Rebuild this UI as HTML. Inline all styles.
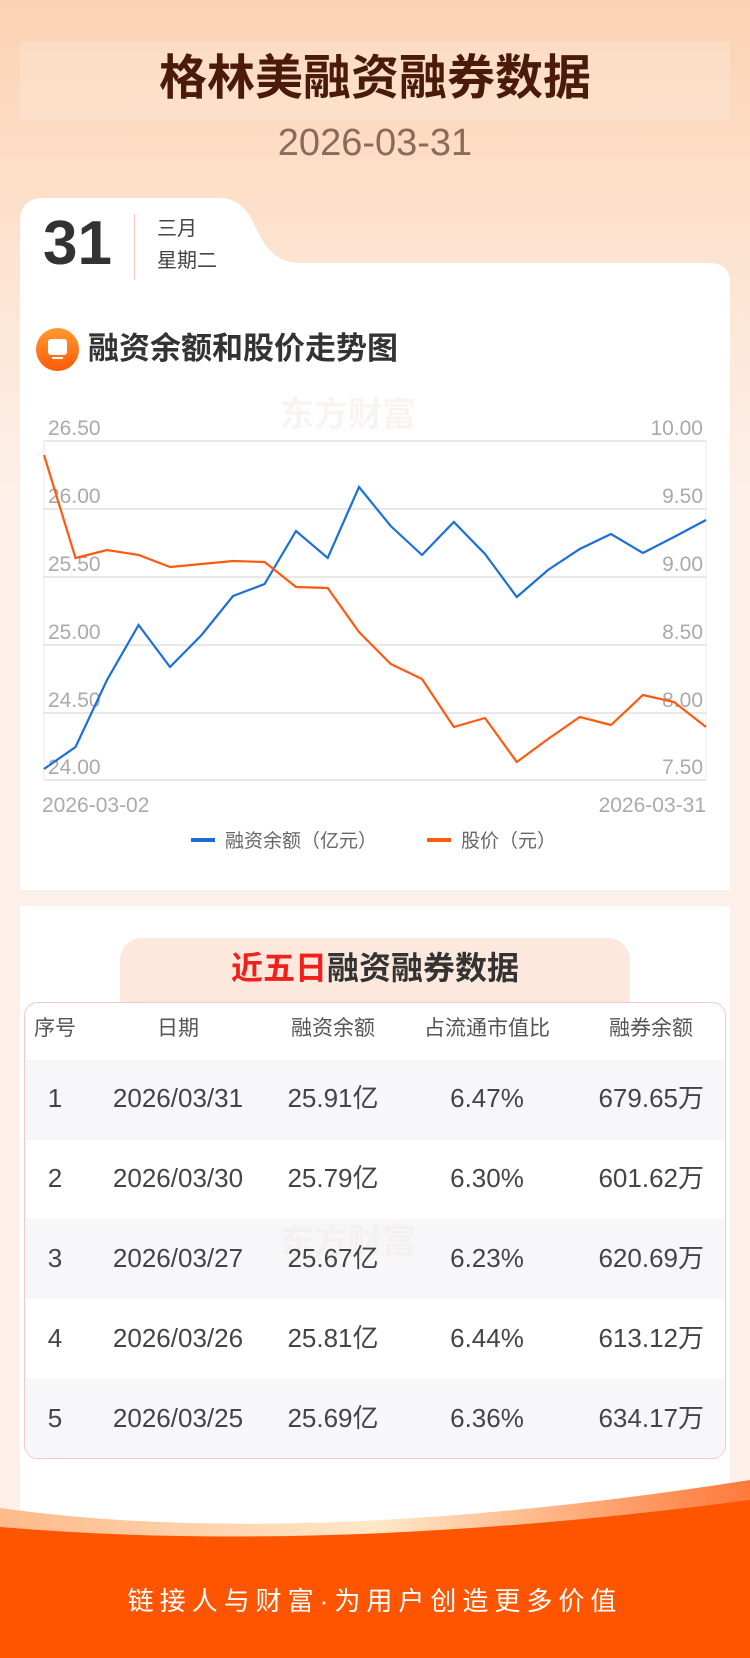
<!DOCTYPE html>
<html><head><meta charset="utf-8"><style>
*{margin:0;padding:0;box-sizing:border-box}
body{width:750px;height:1658px;position:relative;overflow:hidden;font-family:"Liberation Sans","Noto Sans CJK SC",sans-serif;background:linear-gradient(180deg,#fcd2b3 0%,#fde3d0 15%,#fdf0e8 30%,#fdf0e8 100%)}
.abs{position:absolute}
.t{white-space:nowrap}
</style></head><body>
<div class="abs" style="left:20px;top:42px;width:710px;height:78px;background:rgba(255,255,255,0.18)"></div>
<div class="abs t" style="left:0;width:750px;top:50px;text-align:center;font-size:48px;font-weight:bold;color:#4a1a0a;line-height:58px">格林美融资融券数据</div>
<div class="abs t" style="left:0;width:750px;top:121px;text-align:center;font-size:38px;color:#8a6a5a;line-height:44px">2026-03-31</div>
<svg class="abs" style="left:0;top:0" width="750" height="1658">
<path d="M20 222 Q20 198 44 198 L220 198 Q238 198 250 216 L262 240 Q276 263 300 263 L710 263 Q730 263 730 283 L730 890 L20 890 Z" fill="#fff"/>
<rect x="20" y="906" width="710" height="640" fill="#fff"/>
</svg>
<div class="abs t" style="left:43px;top:211px;font-size:62px;font-weight:bold;color:#333;line-height:66px">31</div>
<div class="abs" style="left:134px;top:214px;width:1px;height:66px;background:#f3c8c0"></div>
<div class="abs t" style="left:157px;top:216px;font-size:20px;color:#444;line-height:26px">三月</div>
<div class="abs t" style="left:157px;top:248px;font-size:20px;color:#444;line-height:26px">星期二</div>
<div class="abs" style="left:36px;top:328px;width:43px;height:43px;border-radius:50%;background:linear-gradient(180deg,#ff9a2e,#ff5a0a)"></div>
<div class="abs" style="left:48px;top:339px;width:19px;height:16px;border-radius:3px;background:#fff"></div>
<div class="abs" style="left:52px;top:357px;width:11px;height:2px;background:#fff"></div>
<div class="abs t" style="left:88px;top:330px;font-size:31px;font-weight:bold;color:#333;line-height:38px">融资余额和股价走势图</div>
<div class="abs t" style="left:280px;top:395px;font-size:34px;font-weight:bold;color:#f8f4f3;line-height:40px">东方财富</div>
<svg class="abs" style="left:0;top:0" width="750" height="900">
<g stroke="#e8e8e8" stroke-width="2">
<line x1="44" y1="441" x2="706" y2="441"/><line x1="44" y1="509" x2="706" y2="509"/><line x1="44" y1="577" x2="706" y2="577"/><line x1="44" y1="645" x2="706" y2="645"/><line x1="44" y1="713" x2="706" y2="713"/><line x1="44" y1="780" x2="706" y2="780"/>
<line x1="44" y1="441" x2="44" y2="780" stroke-width="1"/><line x1="706" y1="441" x2="706" y2="780" stroke-width="1"/>
</g>
<g font-size="21" fill="#aaa" font-family="Liberation Sans,sans-serif">
<text x="48" y="435">26.50</text><text x="48" y="503">26.00</text><text x="48" y="571">25.50</text><text x="48" y="639">25.00</text><text x="48" y="707">24.50</text><text x="48" y="774">24.00</text>
<g text-anchor="end"><text x="703" y="435">10.00</text><text x="703" y="503">9.50</text><text x="703" y="571">9.00</text><text x="703" y="639">8.50</text><text x="703" y="707">8.00</text><text x="703" y="774">7.50</text></g>
<text x="42" y="812">2026-03-02</text><text x="706" y="812" text-anchor="end">2026-03-31</text>
</g>
<polyline fill="none" stroke="#1a6fd8" stroke-width="2.2" points="44,769 75.5,747 107,680 138.6,625 170,667 201.6,635 233,596 264.6,584 296,531 327.7,558 359,487 390.7,526 422,555 453.8,522 485,554 516.8,597 548,570 579.8,549 611,534 642.9,553 674,537 706,520"/>
<polyline fill="none" stroke="#ff5a0f" stroke-width="2.2" points="44,455 75.5,558 107,550 138.6,555 170,567 201.6,564 233,561 264.6,562 296,587 327.7,588 359,632 390.7,664 422,679 453.8,727 485,718 516.8,762 548,739 579.8,717 611,725 642.9,695 674,702 706,727"/>
<line x1="191" y1="840" x2="215" y2="840" stroke="#1a6fd8" stroke-width="4"/>
<line x1="427" y1="840" x2="451" y2="840" stroke="#ff5a0f" stroke-width="4"/>
<g font-size="19" fill="#666" font-family="Liberation Sans,Noto Sans CJK SC,sans-serif"><text x="225" y="847">融资余额（亿元）</text><text x="461" y="847">股价（元）</text></g>
</svg>
<div class="abs" style="left:120px;top:938px;width:510px;height:70px;border-radius:22px 22px 0 0;background:#fde8dd"></div>
<div class="abs t" style="left:0;width:750px;top:947px;text-align:center;font-size:32px;font-weight:bold;color:#333;line-height:42px"><span style="color:#f0201a">近五日</span>融资融券数据</div>
<div class="abs" style="left:24px;top:1002px;width:702px;height:457px;border:1px solid #f8c8c8;border-radius:14px;background:#fff;overflow:hidden">
<div class="abs" style="left:0;top:57px;width:702px;height:80px;background:#f7f7f9"></div>
<div class="abs" style="left:0;top:216px;width:702px;height:80px;background:#f7f7f9"></div>
<div class="abs" style="left:0;top:376px;width:702px;height:80px;background:#f7f7f9"></div>
</div>
<div class="abs t" style="left:280px;top:1222px;font-size:34px;font-weight:bold;color:#f4f0f0;line-height:40px">东方财富</div>
<div class="abs" style="left:0;top:0;font-size:26px;color:#444">
<div class="abs t" style="top:1015px;font-size:21px;color:#555;line-height:28px">
<span class="abs" style="left:25px;width:60px;text-align:center">序号</span><span class="abs" style="left:98px;width:160px;text-align:center">日期</span><span class="abs" style="left:253px;width:160px;text-align:center">融资余额</span><span class="abs" style="left:407px;width:160px;text-align:center">占流通市值比</span><span class="abs" style="left:571px;width:160px;text-align:center">融券余额</span></div>
<div class="abs t" style="top:1082px;line-height:32px"><span class="abs" style="left:25px;width:60px;text-align:center">1</span><span class="abs" style="left:88px;width:180px;text-align:center">2026/03/31</span><span class="abs" style="left:243px;width:180px;text-align:center">25.91亿</span><span class="abs" style="left:407px;width:160px;text-align:center">6.47%</span><span class="abs" style="left:521px;width:183px;text-align:right">679.65万</span></div>
<div class="abs t" style="top:1162px;line-height:32px"><span class="abs" style="left:25px;width:60px;text-align:center">2</span><span class="abs" style="left:88px;width:180px;text-align:center">2026/03/30</span><span class="abs" style="left:243px;width:180px;text-align:center">25.79亿</span><span class="abs" style="left:407px;width:160px;text-align:center">6.30%</span><span class="abs" style="left:521px;width:183px;text-align:right">601.62万</span></div>
<div class="abs t" style="top:1242px;line-height:32px"><span class="abs" style="left:25px;width:60px;text-align:center">3</span><span class="abs" style="left:88px;width:180px;text-align:center">2026/03/27</span><span class="abs" style="left:243px;width:180px;text-align:center">25.67亿</span><span class="abs" style="left:407px;width:160px;text-align:center">6.23%</span><span class="abs" style="left:521px;width:183px;text-align:right">620.69万</span></div>
<div class="abs t" style="top:1322px;line-height:32px"><span class="abs" style="left:25px;width:60px;text-align:center">4</span><span class="abs" style="left:88px;width:180px;text-align:center">2026/03/26</span><span class="abs" style="left:243px;width:180px;text-align:center">25.81亿</span><span class="abs" style="left:407px;width:160px;text-align:center">6.44%</span><span class="abs" style="left:521px;width:183px;text-align:right">613.12万</span></div>
<div class="abs t" style="top:1402px;line-height:32px"><span class="abs" style="left:25px;width:60px;text-align:center">5</span><span class="abs" style="left:88px;width:180px;text-align:center">2026/03/25</span><span class="abs" style="left:243px;width:180px;text-align:center">25.69亿</span><span class="abs" style="left:407px;width:160px;text-align:center">6.36%</span><span class="abs" style="left:521px;width:183px;text-align:right">634.17万</span></div>
</div>
<svg class="abs" style="left:0;top:1470px" width="750" height="188">
<defs><linearGradient id="g" x1="0" x2="1"><stop offset="0" stop-color="#ffb98a"/><stop offset="0.5" stop-color="#ffe8c8"/><stop offset="1" stop-color="#ff7a3a"/></linearGradient></defs>
<path d="M0 38 Q300 80 750 10 L750 188 L0 188 Z" fill="url(#g)"/>
<path d="M0 57 Q330 85 750 30 L750 188 L0 188 Z" fill="#ff5500"/>
</svg>
<div class="abs t" style="left:0;width:750px;top:1584px;text-align:center;font-size:26px;color:#fff;letter-spacing:6px;line-height:34px">链接人与财富·为用户创造更多价值</div>
</body></html>
